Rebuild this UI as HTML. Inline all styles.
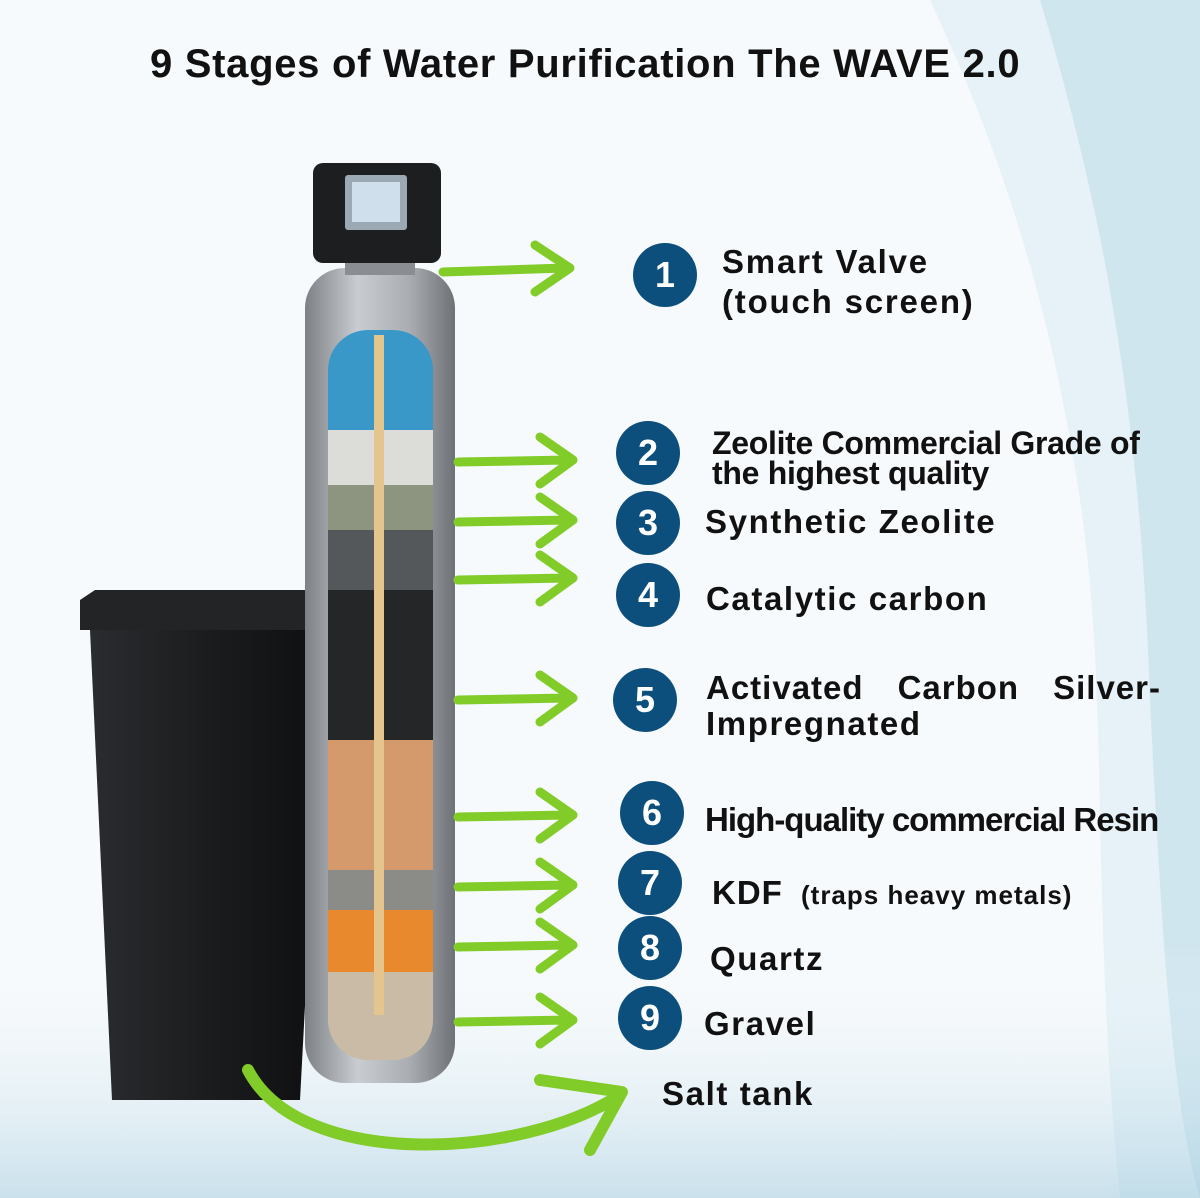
<!DOCTYPE html>
<html><head><meta charset="utf-8"><style>
html,body{margin:0;padding:0}
body{width:1200px;height:1198px;position:relative;overflow:hidden;background:#f7fafc;font-family:"Liberation Sans","DejaVu Sans",sans-serif}
.t{position:absolute;color:#111;font-weight:bold;letter-spacing:1px}
.c{position:absolute;width:64px;height:64px;border-radius:50%;background:#0c4f7c;color:#fff;font-weight:bold;font-size:36px;text-align:center;line-height:64px}
</style></head><body>
<svg width="1200" height="1198" style="position:absolute;left:0;top:0">
<defs>
<linearGradient id="tank" x1="0" x2="1"><stop offset="0" stop-color="#7d8186"/><stop offset=".35" stop-color="#c9cdd1"/><stop offset=".7" stop-color="#a9adb2"/><stop offset="1" stop-color="#6e7276"/></linearGradient>
<linearGradient id="salt" x1="0" x2="1"><stop offset="0" stop-color="#2a2c2f"/><stop offset=".5" stop-color="#1b1c1e"/><stop offset="1" stop-color="#0e0f10"/></linearGradient>
<linearGradient id="water" x1="0" x2="0" y1="0" y2="1"><stop offset="0" stop-color="#ffffff" stop-opacity="0"/><stop offset="1" stop-color="#9cc7dc" stop-opacity=".5"/></linearGradient>
</defs>
<path d="M930 0 C1000 150 1050 300 1080 500 C1110 700 1090 900 1120 1198 L1200 1198 L1200 0 Z" fill="#dbecf3" opacity=".6"/>
<path d="M1040 0 C1100 200 1140 400 1150 700 C1160 900 1170 1100 1200 1198 L1200 0Z" fill="#b9d9e8" opacity=".5"/>
<rect x="0" y="940" width="1200" height="258" fill="url(#water)"/>
<path d="M80 600 L95 590 L318 590 L328 605 L328 630 L80 630Z" fill="#232426"/>
<path d="M90 630 L325 630 L300 1100 L112 1100 Z" fill="url(#salt)"/>
<rect x="305" y="268" width="150" height="815" rx="40" fill="url(#tank)"/>
<rect x="345" y="255" width="70" height="20" fill="#8a8e92"/>
<rect x="313" y="163" width="128" height="100" rx="10" fill="#1d1e20"/>
<rect x="345" y="175" width="62" height="55" rx="3" fill="#9ba9b4"/>
<rect x="352" y="182" width="48" height="40" fill="#cfe0ec"/>
<clipPath id="cut"><rect x="328" y="330" width="105" height="730" rx="40"/></clipPath>
<g clip-path="url(#cut)">
<rect x="328" y="330" width="105" height="100" fill="#3a98c9"/>
<rect x="328" y="430" width="105" height="55" fill="#dcdcd8"/>
<rect x="328" y="485" width="105" height="45" fill="#8d9580"/>
<rect x="328" y="530" width="105" height="60" fill="#55585a"/>
<rect x="328" y="590" width="105" height="150" fill="#252628"/>
<rect x="328" y="740" width="105" height="130" fill="#d49a6c"/>
<rect x="328" y="870" width="105" height="40" fill="#8b8b88"/>
<rect x="328" y="910" width="105" height="62" fill="#e8892e"/>
<rect x="328" y="972" width="105" height="90" fill="#c9bba6"/>
</g>
<rect x="374" y="335" width="10" height="680" fill="#e4c58d"/>
<g stroke="#82cc2a" stroke-width="9" fill="none" stroke-linecap="round" stroke-linejoin="round">
<path d="M443 272 L565 268 M535 245 L570 268 L535 292"/>
<path d="M458 462 L568 460 M540 437 L573 460 L540 484"/>
<path d="M458 522 L568 520 M540 497 L573 520 L540 544"/>
<path d="M458 580 L568 578 M540 555 L573 578 L540 602"/>
<path d="M458 700 L568 698 M540 675 L573 698 L540 722"/>
<path d="M458 817 L568 815 M540 792 L573 815 L540 839"/>
<path d="M458 887 L568 885 M540 862 L573 885 L540 909"/>
<path d="M458 947 L568 945 M540 922 L573 945 L540 969"/>
<path d="M458 1022 L568 1020 M540 997 L573 1020 L540 1044"/>
<path d="M248 1070 C300 1170 520 1160 620 1095 M540 1080 L622 1092 L590 1150" stroke-width="12"/>
</g>
</svg>
<div class="t" style="left:150px;top:42px;font-size:40px;letter-spacing:0.7px">9 Stages of Water Purification The WAVE 2.0</div>
<div class="c" style="left:633px;top:243px">1</div>
<div class="c" style="left:616px;top:421px">2</div>
<div class="c" style="left:616px;top:491px">3</div>
<div class="c" style="left:616px;top:563px">4</div>
<div class="c" style="left:613px;top:668px">5</div>
<div class="c" style="left:620px;top:781px">6</div>
<div class="c" style="left:618px;top:851px">7</div>
<div class="c" style="left:618px;top:916px">8</div>
<div class="c" style="left:618px;top:986px">9</div>
<div class="t" style="left:722px;top:242px;font-size:33px;line-height:40px;letter-spacing:1.8px">Smart Valve<br>(touch screen)</div>
<div class="t" style="left:712px;top:428px;font-size:32px;line-height:30px;letter-spacing:-0.3px">Zeolite Commercial Grade of<br>the highest quality</div>
<div class="t" style="left:705px;top:503px;font-size:33px;letter-spacing:1.6px">Synthetic Zeolite</div>
<div class="t" style="left:706px;top:580px;font-size:33px;letter-spacing:1.6px">Catalytic carbon</div>
<div class="t" style="left:706px;top:671px;font-size:33px;line-height:34px;width:455px;text-align:justify;text-align-last:justify">Activated Carbon Silver-</div>
<div class="t" style="left:706px;top:705px;font-size:33px;letter-spacing:1.6px">Impregnated</div>
<div class="t" style="left:705px;top:801px;font-size:33px;letter-spacing:-1px">High-quality commercial Resin</div>
<div class="t" style="left:712px;top:874px;font-size:33px">KDF <span style="font-size:26px;margin-left:8px">(traps heavy metals)</span></div>
<div class="t" style="left:710px;top:940px;font-size:33px;letter-spacing:1.6px">Quartz</div>
<div class="t" style="left:704px;top:1005px;font-size:33px;letter-spacing:1.6px">Gravel</div>
<div class="t" style="left:662px;top:1075px;font-size:33px;letter-spacing:1.6px">Salt tank</div>
</body></html>
